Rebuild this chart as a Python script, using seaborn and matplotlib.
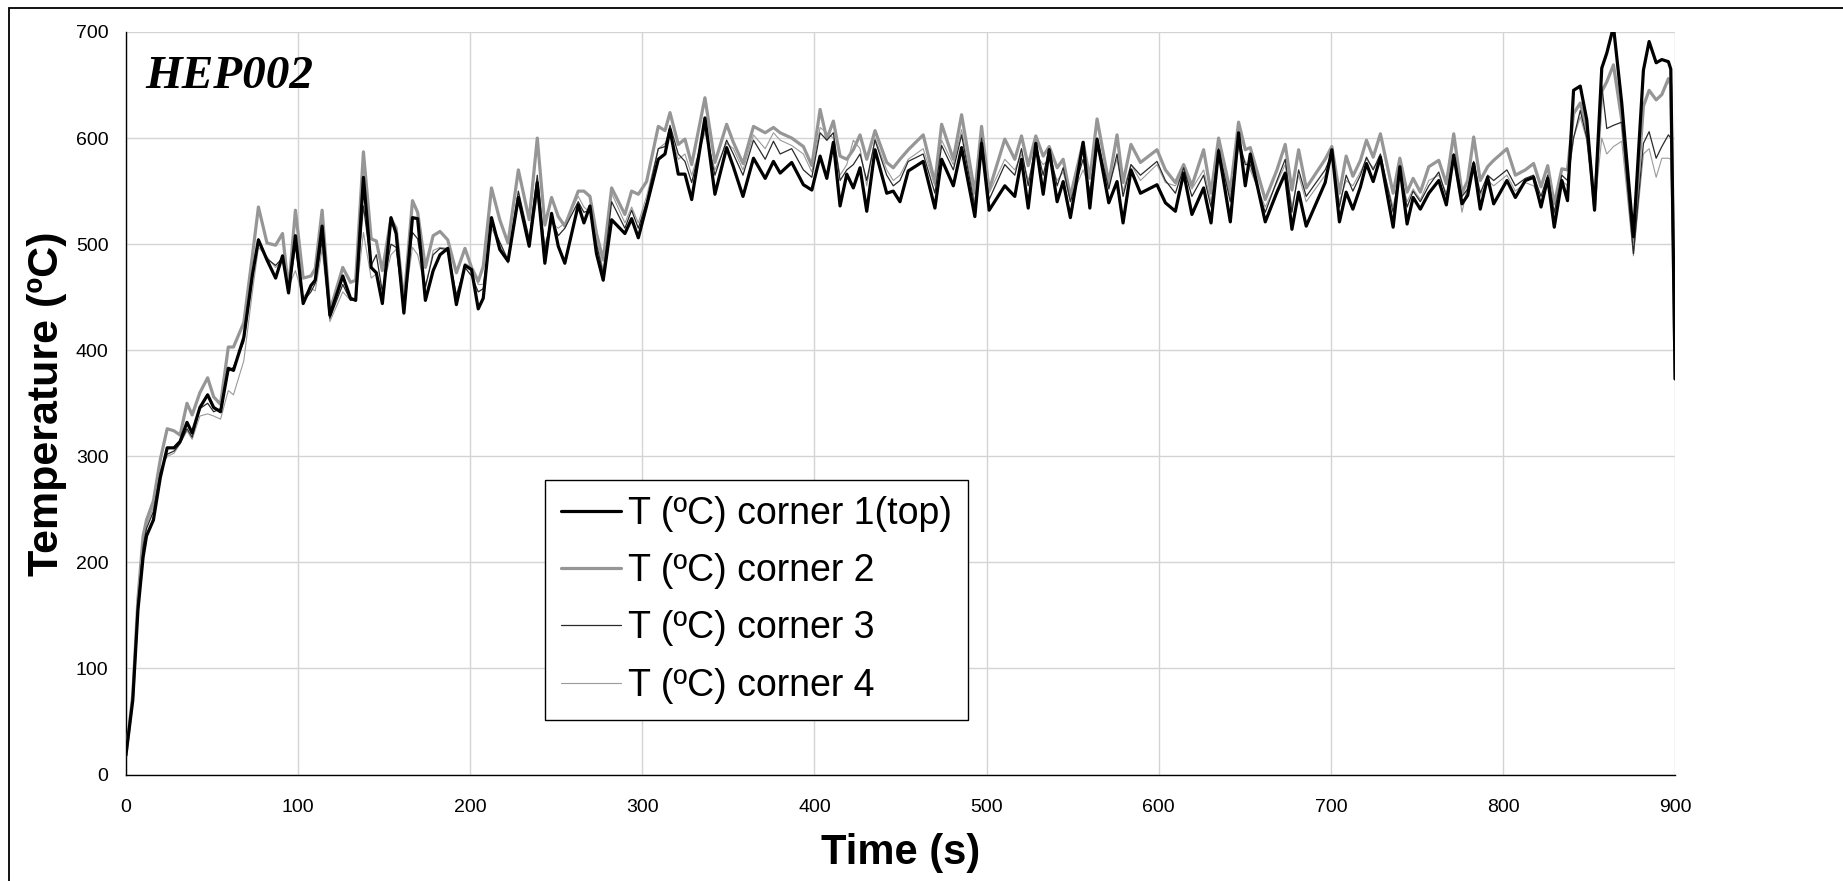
import numpy as np
import pandas as pd
import seaborn as sns
from matplotlib import pyplot as plt
from matplotlib.patches import Rectangle

# time axis (s) and the four thermocouple readings (ºC)
time_s = [0, 4, 7, 10, 12, 16, 20, 24, 28, 31.5, 35.5, 38.5, 43, 47.5, 51, 55, 59.5, 62.5, 68.5, 73.5,
          77, 82, 87, 91, 94.5, 98.5, 103, 107.5, 110, 114, 118.5, 126, 130.5, 133.5, 138, 142.5, 145.5, 149,
          154, 157, 161.5, 166.5, 169.5, 174, 178.5, 182.5, 187, 192, 197, 200.8, 204.7, 207.6, 212.4, 217.2,
          222, 228, 234.3, 239, 243.4, 247.3, 251.2, 255, 262.8, 266.1, 269.6, 273.4, 277.3, 282.2, 289.9,
          293.8, 297.7, 302.5, 309.3, 313.2, 316.1, 320.9, 324.8, 328.7, 336.4, 342.2, 349, 352.9, 358.5,
          364.6, 371.4, 376.2, 380.1, 386.8, 393.6, 398.5, 403.3, 407.2, 411, 414.9, 418.8, 422.6, 426.5,
          430.4, 435.2, 442, 445.8, 449.7, 454.5, 463.2, 470, 473.9, 480.7, 485.5, 493.2, 497.1, 501.5,
          510.6, 516.4, 520.3, 524.2, 528.6, 532.9, 536.4, 541, 544.5, 548.7, 556.1, 560, 564.2, 571, 575.8,
          579.3, 583.9, 589.4, 599, 603.9, 609.7, 614.5, 619.3, 626.1, 630.4, 634.8, 641.6, 646.4, 650.3,
          653.2, 661.9, 668.7, 673.5, 677.4, 681.3, 685.7, 696.7, 700.6, 705, 708.9, 712.8, 717.2, 720.7,
          724.6, 728.8, 736.2, 740.1, 744.3, 747.8, 752, 756.9, 762.7, 767.1, 771.4, 776.2, 779.5, 783,
          786.8, 791.1, 794.6, 802.3, 807.2, 813, 817.8, 822.1, 826, 829.8, 834.2, 837.5, 841, 844.9, 848.7,
          853.2, 857.4, 860.3, 864.2, 869, 875.8, 881.6, 884.9, 889, 892.3, 896.1, 897.5, 900]

corner1 = [18, 70, 155, 205, 225, 240, 280, 308, 308, 314, 332, 322, 346, 358, 346, 342, 383, 381, 412, 471,
           504, 485, 468, 489, 454, 508, 444, 461, 466, 517, 433, 470, 449, 447, 563, 478, 473, 444,
           525, 510, 435, 525, 524, 447, 475, 490, 496, 443, 480, 476, 439, 449, 525, 495,
           484, 544, 498, 558, 482, 529, 498, 482, 537, 520, 536, 491, 466, 523, 510,
           524, 506, 536, 580, 585, 608, 566, 566, 542, 619, 547, 591, 573, 545,
           581, 562, 578, 567, 577, 556, 551, 583, 562, 596, 536, 566, 553, 572,
           531, 589, 548, 550, 540, 569, 578, 534, 580, 555, 591, 526, 595, 532,
           555, 545, 580, 534, 595, 547, 589, 540, 559, 525, 596, 534, 599, 539, 559,
           520, 570, 548, 556, 539, 531, 567, 528, 553, 520, 588, 521, 605, 555,
           585, 521, 549, 567, 514, 549, 517, 558, 589, 521, 549, 533, 554, 576,
           559, 582, 516, 573, 519, 544, 533, 548, 560, 537, 584, 538, 546, 576,
           533, 563, 538, 560, 544, 560, 563, 535, 562, 516, 560, 541, 645, 649, 617,
           532, 666, 680, 705, 633, 507, 664, 691, 671, 674, 672, 665, 373]

corner2 = [18, 75, 165, 225, 240, 258, 297, 326, 324, 320, 350, 339, 360, 374, 356, 349, 403, 403, 426, 489,
           535, 501, 499, 510, 457, 532, 468, 470, 477, 532, 437, 478, 464, 466, 587, 505, 503, 475,
           524, 515, 445, 541, 530, 478, 508, 512, 504, 473, 496, 478, 465, 479, 553, 523,
           501, 570, 523, 600, 518, 544, 526, 517, 550, 550, 545, 510, 485, 553, 528,
           550, 547, 559, 611, 607, 624, 594, 599, 575, 638, 577, 613, 596, 576,
           611, 605, 610, 605, 600, 592, 574, 627, 599, 616, 583, 580, 589, 603,
           580, 607, 577, 572, 580, 589, 603, 558, 613, 580, 622, 548, 611, 551,
           599, 580, 602, 574, 602, 583, 592, 572, 580, 545, 596, 562, 618, 558, 603,
           558, 594, 577, 589, 570, 558, 575, 555, 589, 548, 600, 550, 615, 589,
           591, 542, 570, 594, 551, 589, 553, 580, 592, 548, 583, 564, 579, 598,
           582, 604, 548, 581, 549, 562, 549, 573, 579, 557, 604, 548, 560, 601,
           560, 573, 579, 590, 565, 570, 576, 554, 574, 538, 571, 570, 623, 633, 608,
           535, 644, 653, 669, 617, 502, 630, 645, 636, 641, 656, 650, 373]

corner3 = [18, 72, 160, 215, 232, 248, 285, 302, 305, 312, 326, 318, 345, 350, 342, 345, 380, 384, 408, 470,
           505, 486, 480, 487, 455, 498, 446, 455, 463, 503, 430, 462, 447, 448, 536, 480, 490, 455,
           500, 497, 440, 511, 505, 460, 490, 496, 495, 452, 478, 470, 455, 458, 520, 502,
           485, 550, 505, 565, 495, 525, 508, 515, 540, 530, 532, 500, 472, 540, 515,
           532, 515, 540, 590, 592, 612, 585, 578, 558, 610, 565, 598, 585, 565,
           598, 580, 597, 585, 590, 570, 563, 605, 598, 605, 560, 570, 575, 585,
           560, 598, 565, 555, 560, 578, 585, 548, 593, 570, 603, 535, 600, 542,
           575, 565, 590, 555, 595, 565, 590, 555, 572, 540, 580, 548, 600, 552, 585,
           545, 575, 565, 578, 560, 548, 572, 545, 565, 535, 590, 540, 600, 575,
           575, 530, 560, 580, 530, 570, 545, 570, 585, 535, 565, 550, 565, 582,
           570, 585, 530, 572, 535, 550, 540, 555, 568, 545, 585, 545, 552, 578,
           548, 565, 560, 570, 555, 562, 565, 545, 565, 530, 565, 560, 600, 626, 600,
           535, 649, 609, 612, 615, 491, 595, 606, 581, 592, 603, 600, 373]

corner4 = [18, 72, 158, 212, 235, 252, 288, 300, 303, 312, 324, 316, 338, 340, 338, 335, 362, 358, 390, 455,
           497, 488, 478, 485, 460, 475, 450, 458, 456, 495, 427, 455, 447, 447, 511, 468, 472, 458,
           490, 495, 440, 497, 490, 458, 494, 497, 496, 448, 482, 478, 462, 462, 515, 500,
           482, 545, 500, 545, 500, 520, 515, 520, 545, 535, 530, 505, 475, 548, 520,
           535, 520, 545, 590, 595, 605, 580, 585, 565, 605, 570, 595, 590, 570,
           603, 590, 605, 598, 593, 585, 568, 610, 605, 600, 565, 575, 598, 590,
           555, 600, 570, 560, 565, 580, 590, 555, 598, 575, 608, 540, 598, 548,
           580, 570, 585, 560, 585, 575, 580, 560, 568, 542, 570, 552, 590, 555, 580,
           550, 575, 560, 575, 558, 555, 568, 552, 570, 540, 585, 545, 590, 578,
           570, 535, 558, 575, 535, 565, 540, 565, 580, 540, 560, 555, 568, 580,
           572, 580, 535, 568, 540, 552, 542, 560, 565, 548, 580, 530, 555, 575,
           545, 560, 555, 565, 550, 558, 555, 540, 560, 528, 560, 555, 600, 620, 598,
           535, 600, 585, 592, 597, 489, 585, 590, 563, 581, 581, 580, 373]

labels = ['T (ºC) corner 1(top)', 'T (ºC) corner 2', 'T (ºC) corner 3', 'T (ºC) corner 4']
colors = ['#000000', '#969696', '#2a2a2a', '#9a9a9a']
widths = [2.3, 2.3, 0.9, 0.8]
zorders = [5, 3, 4, 3.5]
x_ticks = list(range(0, 901, 100))
y_ticks = list(range(0, 701, 100))


def main():
    sns.set_style('whitegrid')
    plt.rcParams['font.family'] = ['Liberation Sans', 'DejaVu Sans']
    plt.rcParams['text.color'] = 'black'
    plt.rcParams['axes.labelcolor'] = 'black'

    df = pd.DataFrame({'time': time_s, labels[0]: corner1, labels[1]: corner2,
                       labels[2]: corner3, labels[3]: corner4})

    fig = plt.figure(figsize=(18.43, 8.81), dpi=100)
    ax = fig.add_axes([0.0683, 0.1208, 0.8406, 0.8429])

    for lab, col, lw, zo in zip(labels, colors, widths, zorders):
        sns.lineplot(data=df, x='time', y=lab, ax=ax, color=col, linewidth=lw,
                     label=lab, zorder=zo, estimator=None, sort=False,
                     solid_joinstyle='round', solid_capstyle='round')

    ax.set_xlim(0, 900)
    ax.set_ylim(0, 700)
    ax.set_xticks(x_ticks)
    ax.set_yticks(y_ticks)
    ax.grid(True, color='#d4d4d4', linewidth=1)
    for s in ['top', 'right']:
        ax.spines[s].set_visible(False)
    for s in ['left', 'bottom']:
        ax.spines[s].set_color('black')
        ax.spines[s].set_linewidth(1)
    ax.tick_params(axis='both', direction='inout', length=9, width=1, color='black',
                   labelsize=14, labelcolor='black')
    ax.tick_params(axis='x', pad=13)
    ax.tick_params(axis='y', pad=8)

    ax.set_xlabel('Time (s)', fontsize=30, fontweight='bold', labelpad=12)
    ax.set_ylabel('Temperature (ºC)', fontsize=31, fontweight='bold', labelpad=6)

    ax.text(0.0124, 0.9246, 'HEP002', transform=ax.transAxes, fontsize=34, color='black',
            fontweight='bold', fontstyle='italic', family=['Liberation Serif', 'DejaVu Serif'],
            va='baseline', ha='left')

    leg = ax.legend(loc='upper left', bbox_to_anchor=(0.2957, 0.4552),
                    bbox_transform=fig.transFigure, borderaxespad=0, fontsize=27,
                    frameon=True, fancybox=False, framealpha=1, handlelength=1.6,
                    handletextpad=0.2, labelspacing=0.57, borderpad=0.42)
    leg.get_frame().set_edgecolor('black')
    leg.get_frame().set_linewidth(1)

    # outer frame of the original chart area
    fig.patches.append(Rectangle((9 / 1843, -0.05), 1.2, 1.05 - 8 / 881, transform=fig.transFigure,
                                 fill=False, edgecolor='black', linewidth=1.3))

    fig.savefig('out.png', dpi=100)


if __name__ == '__main__':
    main()
